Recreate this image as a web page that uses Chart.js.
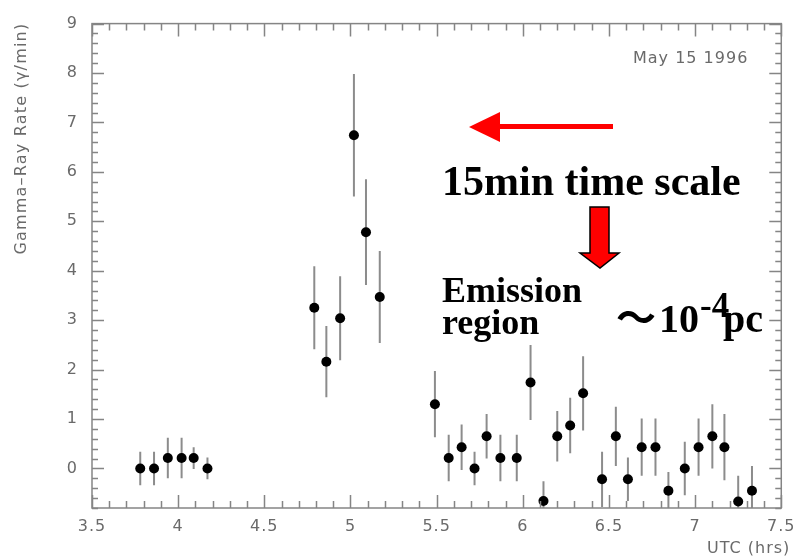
<!DOCTYPE html>
<html>
<head>
<meta charset="utf-8">
<script src="https://cdn.jsdelivr.net/npm/chart.js@4"></script>
<style>
  html, body { margin: 0; padding: 0; background: #fff; }
  #wrap { width: 803px; height: 559px; }
</style>
</head>
<body>
<div id="wrap"><canvas id="rateChart" width="803" height="559"></canvas></div>
<script>
// UTC time (hrs) of each bin
var utcHours = [3.78, 3.86, 3.94, 4.02, 4.09, 4.17,
                4.79, 4.86, 4.94, 5.02, 5.09, 5.17,
                5.49, 5.57, 5.645, 5.72, 5.79, 5.87, 5.965, 6.045, 6.12, 6.20, 6.275, 6.35,
                6.46, 6.54, 6.61, 6.69, 6.77, 6.845, 6.94, 7.02, 7.10, 7.17, 7.25, 7.33];
// gamma-ray rate (gamma/min)
var rates = [0, 0, 0.21, 0.21, 0.21, 0,
             3.25, 2.16, 3.04, 6.74, 4.78, 3.47,
             1.3, 0.21, 0.43, 0, 0.65, 0.21, 0.21, 1.74, -0.66, 0.65, 0.87, 1.52,
             -0.22, 0.65, -0.22, 0.43, 0.43, -0.45, 0, 0.43, 0.65, 0.43, -0.67, -0.45];
// +/- 1 sigma
var rateErrors = [0.34, 0.34, 0.41, 0.41, 0.22, 0.22,
                  0.84, 0.72, 0.85, 1.24, 1.07, 0.93,
                  0.67, 0.47, 0.46, 0.34, 0.45, 0.47, 0.47, 0.76, 0.4, 0.51, 0.56, 0.75,
                  0.56, 0.6, 0.44, 0.58, 0.58, 0.38, 0.54, 0.58, 0.65, 0.67, 0.52, 0.5];

var xTickValues = [3.5, 4, 4.5, 5, 5.5, 6, 6.5, 7, 7.5];
var xTickLabels = ['3.5', '4', '4.5', '5', '5.5', '6', '6.5', '7', '7.5'];
var yTickValues = [0, 1, 2, 3, 4, 5, 6, 7, 8, 9];
var yTickLabels = ['0', '1', '2', '3', '4', '5', '6', '7', '8', '9'];

var axisGray = '#858585';
var textGray = '#6a6a6a';

var points = utcHours.map(function(t, i) { return { x: t, y: rates[i] }; });

// frame, inward ticks, error bars, titles and the slide annotations
var decorations = {
  id: 'decorations',
  beforeDraw: function(chart) {
    chart.ctx.letterSpacing = '1px';
  },
  beforeDatasetsDraw: function(chart) {
    var ctx = chart.ctx, a = chart.chartArea;
    var xs = chart.scales.x, ys = chart.scales.y;
    ctx.save();
    ctx.beginPath();
    ctx.rect(a.left, a.top, a.right - a.left, a.bottom - a.top);
    ctx.clip();
    ctx.strokeStyle = '#8c8c8c';
    ctx.lineWidth = 2;
    for (var i = 0; i < utcHours.length; i++) {
      var px = xs.getPixelForValue(utcHours[i]);
      ctx.beginPath();
      ctx.moveTo(px, ys.getPixelForValue(rates[i] - rateErrors[i]));
      ctx.lineTo(px, ys.getPixelForValue(rates[i] + rateErrors[i]));
      ctx.stroke();
    }
    ctx.restore();
  },
  afterDraw: function(chart) {
    var ctx = chart.ctx, a = chart.chartArea;
    var xs = chart.scales.x, ys = chart.scales.y;
    ctx.save();
    ctx.strokeStyle = axisGray;
    ctx.lineWidth = 1.5;
    ctx.strokeRect(a.left, a.top, a.right - a.left, a.bottom - a.top);

    ctx.beginPath();
    // x ticks, bottom and top
    for (var k = 35; k <= 75; k++) {
      var v = k / 10, px = Math.round(xs.getPixelForValue(v)) + 0.5;
      var len = (k % 5 === 0) ? 13 : 7;
      ctx.moveTo(px, a.bottom); ctx.lineTo(px, a.bottom - len);
      ctx.moveTo(px, a.top); ctx.lineTo(px, a.top + len);
    }
    // y ticks, left and right
    for (var j = -4; j <= 45; j++) {
      var yv = j / 5, py = Math.round(ys.getPixelForValue(yv)) + 0.5;
      var ylen = (j % 5 === 0) ? 12 : 6;
      ctx.moveTo(a.left, py); ctx.lineTo(a.left + ylen, py);
      ctx.moveTo(a.right, py); ctx.lineTo(a.right - ylen, py);
    }
    ctx.stroke();

    // axis titles
    ctx.fillStyle = textGray;
    ctx.font = '16px "DejaVu Sans"';
    ctx.letterSpacing = '1px';
    ctx.textBaseline = 'middle';
    ctx.textAlign = 'left';
    ctx.fillText('UTC (hrs)', 707, 549);
    ctx.save();
    ctx.translate(22, a.top - 1);
    ctx.rotate(-Math.PI / 2);
    ctx.textAlign = 'right';
    ctx.letterSpacing = '1.2px';
    ctx.fillText('Gamma\u2013Ray Rate (\u03B3/min)', 0, 0);
    ctx.restore();
    ctx.fillText('May 15 1996', 633, 59);
    ctx.letterSpacing = '0px';

    // red arrows
    ctx.fillStyle = '#ff0000';
    ctx.fillRect(496, 124, 117, 5);
    ctx.beginPath();
    ctx.moveTo(469, 127); ctx.lineTo(500, 112); ctx.lineTo(500, 142); ctx.closePath();
    ctx.fill();

    ctx.beginPath();
    ctx.moveTo(590, 207); ctx.lineTo(609, 207); ctx.lineTo(609, 253);
    ctx.lineTo(619, 253); ctx.lineTo(600, 268); ctx.lineTo(580, 253);
    ctx.lineTo(590, 253); ctx.closePath();
    ctx.fill();
    ctx.strokeStyle = '#000';
    ctx.lineWidth = 1.5;
    ctx.stroke();

    // annotation text
    ctx.fillStyle = '#000';
    ctx.textBaseline = 'alphabetic';
    ctx.textAlign = 'left';
    ctx.font = 'bold 42px "Liberation Serif"';
    ctx.fillText('15min time scale', 442, 195);
    ctx.font = 'bold 36px "Liberation Serif"';
    ctx.fillText('Emission', 442, 302);
    ctx.fillText('region', 442, 334);
    ctx.font = 'bold 40px "Liberation Serif", "Noto Sans CJK JP"';
    ctx.fillText('\uFF5E', 616, 332);
    ctx.fillText('10', 659, 332);
    ctx.font = 'bold 35px "Liberation Serif"';
    ctx.fillText('-4', 700, 317);
    ctx.font = 'bold 40px "Liberation Serif"';
    ctx.fillText('pc', 723, 332);
    ctx.restore();
  }
};

var ctx = document.getElementById('rateChart').getContext('2d');
var rateChart = new Chart(ctx, {
  type: 'scatter',
  data: {
    datasets: [{
      label: 'Gamma-Ray Rate',
      data: points,
      backgroundColor: '#000',
      borderWidth: 0,
      pointRadius: 5,
      showLine: false
    }]
  },
  options: {
    responsive: false,
    animation: false,
    layout: { padding: { top: 14, right: 13, left: 0, bottom: 0 } },
    plugins: { legend: { display: false }, tooltip: { enabled: false } },
    scales: {
      x: {
        type: 'linear',
        min: 3.5, max: 7.5,
        grid: { display: false, drawTicks: false },
        border: { display: false },
        afterBuildTicks: function(scale) {
          scale.ticks = xTickValues.map(function(v) { return { value: v }; });
        },
        afterFit: function(scale) { scale.height = 51; },
        ticks: {
          padding: 9,
          color: textGray,
          font: { family: 'DejaVu Sans', size: 16 },
          maxRotation: 0,
          callback: function(v, i) { return xTickLabels[i]; }
        }
      },
      y: {
        type: 'linear',
        min: -0.8, max: 9,
        grid: { display: false, drawTicks: false },
        border: { display: false },
        afterBuildTicks: function(scale) {
          scale.ticks = yTickValues.map(function(v) { return { value: v }; });
        },
        afterFit: function(scale) { scale.width = 92; },
        ticks: {
          padding: 14,
          color: textGray,
          font: { family: 'DejaVu Sans', size: 16 },
          callback: function(v, i) { return yTickLabels[i]; }
        }
      }
    }
  },
  plugins: [decorations]
});
</script>
</body>
</html>
